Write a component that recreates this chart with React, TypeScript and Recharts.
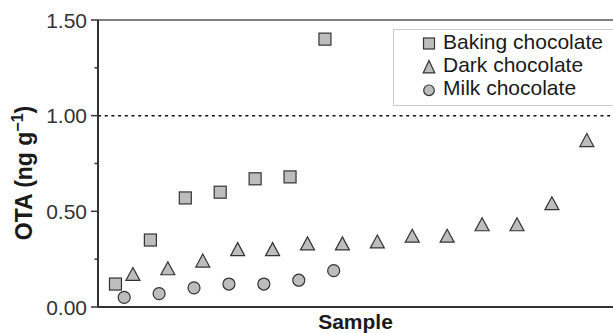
import React from 'react'
import {
  ScatterChart,
  Scatter,
  XAxis,
  YAxis,
  ReferenceLine,
  Label,
} from 'recharts'

// sample positions along the x axis and OTA values (ng/g)
const bakingSamples = [2, 6, 10, 14, 18, 22, 26]
const bakingValues = [0.12, 0.35, 0.57, 0.6, 0.67, 0.68, 1.4]
const milkSamples = [3, 7, 11, 15, 19, 23, 27]
const milkValues = [0.05, 0.07, 0.1, 0.12, 0.12, 0.14, 0.19]
const darkSamples = [4, 8, 12, 16, 20, 24, 28, 32, 36, 40, 44, 48, 52, 56]
const darkValues = [0.17, 0.2, 0.24, 0.3, 0.3, 0.33, 0.33, 0.34, 0.37, 0.37, 0.43, 0.43, 0.54, 0.87]
const yTicks = [0, 0.25, 0.5, 0.75, 1, 1.25, 1.5]
const seriesNames = ['Baking chocolate', 'Dark chocolate', 'Milk chocolate']

const FONT = '"Liberation Sans", Arial, sans-serif'
const FILL = '#bdbdbd'
const EDGE = '#333'

const toPoints = (xs: number[], ys: number[]) => xs.map((x, i) => ({ x, y: ys[i] }))
const baking = toPoints(bakingSamples, bakingValues)
const milk = toPoints(milkSamples, milkValues)
const dark = toPoints(darkSamples, darkValues)

const Square = ({ cx, cy }: any) => (
  <rect x={cx - 6} y={cy - 6} width={12} height={12} fill={FILL} stroke={EDGE} strokeWidth={1.2} />
)
const Triangle = ({ cx, cy }: any) => (
  <polygon
    points={`${cx},${cy - 7} ${cx - 7},${cy + 6} ${cx + 7},${cy + 6}`}
    fill={FILL}
    stroke={EDGE}
    strokeWidth={1.2}
  />
)
const Dot = ({ cx, cy }: any) => (
  <circle cx={cx} cy={cy} r={6} fill={FILL} stroke={EDGE} strokeWidth={1.2} />
)

const YTick = ({ x, y, payload }: any) => {
  const major = Math.abs((payload.value * 2) % 1) < 1e-6
  return (
    <g>
      <line x1={x - (major ? 7 : 3.5)} x2={x} y1={y} y2={y} stroke={EDGE} strokeWidth={1.5} />
      {major && (
        <text x={x - 11} y={y} dy="0.36em" textAnchor="end" fontSize={21} fill="#333" fontFamily={FONT}>
          {payload.value.toFixed(2)}
        </text>
      )}
    </g>
  )
}

// legend marker drawn at (cx, cy)
const legendMarker = (i: number, cx: number, cy: number) => {
  if (i === 0)
    return <rect x={cx - 5.5} y={cy - 5.5} width={11} height={11} fill={FILL} stroke={EDGE} strokeWidth={1.2} />
  if (i === 1)
    return (
      <polygon
        points={`${cx},${cy - 6.5} ${cx - 5.8},${cy + 6} ${cx + 5.8},${cy + 6}`}
        fill={FILL}
        stroke={EDGE}
        strokeWidth={1.2}
      />
    )
  return <circle cx={cx} cy={cy} r={5.3} fill={FILL} stroke={EDGE} strokeWidth={1.2} />
}

function ChartLegend() {
  return (
    <svg
      width={221}
      height={78}
      style={{ position: 'absolute', left: 393, top: 29 }}
      fontFamily={FONT}
    >
      <rect x={0.5} y={0.5} width={230} height={76} fill="#fff" stroke="#ccc" strokeWidth={1} />
      {seriesNames.map((name, i) => {
        const base = 19.5 + i * 23.4
        return (
          <g key={name}>
            {legendMarker(i, 36, base - 5)}
            <text x={50} y={base} fontSize={21} fill="#1a1a1a">
              {name}
            </text>
          </g>
        )
      })}
    </svg>
  )
}

export default function App() {
  return (
    <div style={{ position: 'relative', width: 613, height: 333, background: '#fff', overflow: 'hidden' }}>
      <style>{'body{margin:0}'}</style>
      <ScatterChart width={613} height={333} margin={{ top: 20, right: 0, bottom: 0, left: 0 }}>
        <XAxis
          type="number"
          dataKey="x"
          domain={[0, 59]}
          ticks={[]}
          tick={false}
          tickLine={false}
          height={26}
          axisLine={{ stroke: EDGE, strokeWidth: 2 }}
        >
          <Label
            content={() => (
              <text x={355.5} y={329} textAnchor="middle" fontSize={21} fontWeight="bold" fill="#1a1a1a" fontFamily={FONT}>
                Sample
              </text>
            )}
          />
        </XAxis>
        <YAxis
          type="number"
          dataKey="y"
          domain={[0, 1.5]}
          ticks={yTicks}
          interval={0}
          width={98}
          tickSize={0}
          tickMargin={0}
          tickLine={false}
          tick={<YTick />}
          axisLine={{ stroke: EDGE, strokeWidth: 2 }}
        >
          <Label
            content={() => (
              <text
                x={32}
                y={173}
                transform="rotate(-90 32 173)"
                textAnchor="middle"
                fontSize={23}
                fontWeight="bold"
                fill="#1a1a1a"
                fontFamily={FONT}
              >
                OTA (ng g
                <tspan dy={-9} fontSize={16}>−1</tspan>
                <tspan dy={9}>)</tspan>
              </text>
            )}
          />
        </YAxis>
        <ReferenceLine y={1.5} stroke="#555" strokeWidth={1.5} />
        <ReferenceLine y={1} stroke="#111" strokeWidth={1.5} strokeDasharray="3 3.7" />
        <Scatter name={seriesNames[0]} data={baking} shape={<Square />} isAnimationActive={false} />
        <Scatter name={seriesNames[1]} data={dark} shape={<Triangle />} isAnimationActive={false} />
        <Scatter name={seriesNames[2]} data={milk} shape={<Dot />} isAnimationActive={false} />
      </ScatterChart>
      <ChartLegend />
    </div>
  )
}
